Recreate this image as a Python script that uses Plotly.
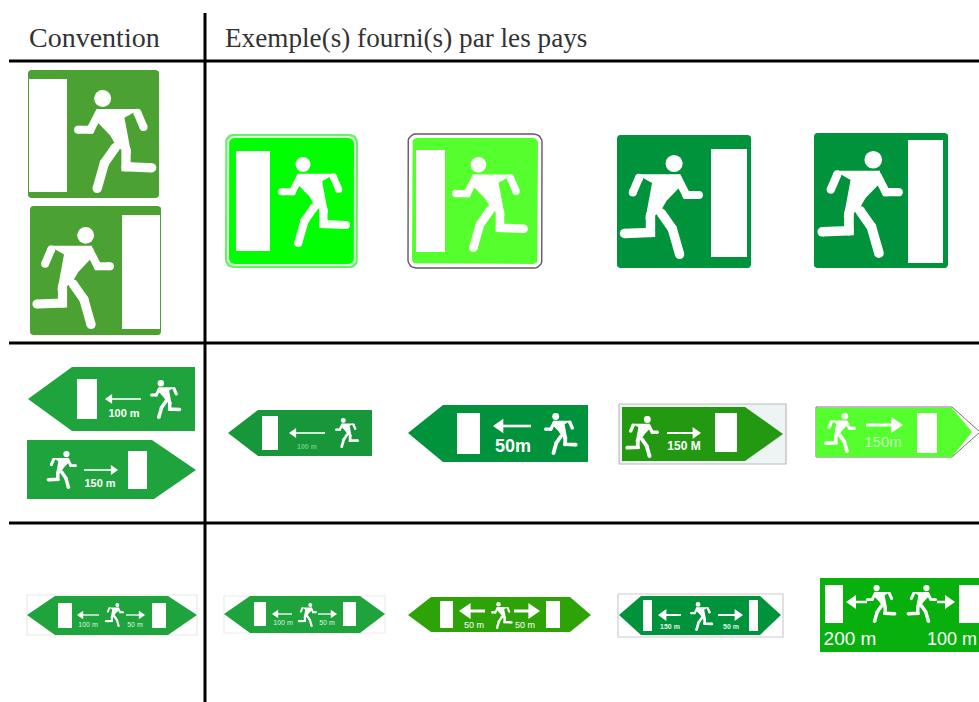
import math
import plotly.graph_objects as go

W, H = 979, 702

# ---- table text and rules
HEADERS = [("Convention", 29, 40, 28), ("Exemple(s) fourni(s) par les pays", 225, 40, 27.2)]
RULES = [((205, 13), (205, 702)), ((9, 61), (979, 61)), ((9, 343), (979, 343)), ((9, 523), (979, 523))]

# ---- colours
C_CONV = "#4ba233"
C_ROW = "#1fa33c"
C_LIME = "#00ff00"
C_LIGHT = "#55ff2d"
C_DARK = "#00933c"
C_GRASS = "#229911"
C_MOSS = "#2ea308"
C_VIVID = "#08b00e"

# ---- running figure, drawn in a 0-1 height unit, facing right
HEAD = (0.278, 0.082, 0.165)
TORSO = [(0.215, 0.185), (0.64, 0.185), (0.49, 0.27), (0.555, 0.62), (0.42, 0.56), (0.35, 0.44), (0.225, 0.31)]
ARM_FRONT = [(0.615, 0.22), (0.675, 0.36)]
ARM_BACK = [(0.24, 0.23), (0.16, 0.385), (0.04, 0.385)]
LEG_REAR = [(0.40, 0.56), (0.295, 0.71), (0.225, 0.955)]
LEG_FRONT = [(0.505, 0.58), (0.505, 0.745), (0.755, 0.755)]
LIMB_W = (0.078, 0.09)

# ---- square signs: x0, x1, y0, y1, colour, door, figure (x0, y0, height, mirrored)
SQUARES = [
    (28, 159, 70, 198, C_CONV, (29, 67, 79, 192), (74, 90, 103, False), None),
    (30, 161, 206, 335, C_CONV, (122, 160, 215, 329), (114, 227, 102, True), None),
    (225, 358, 134, 268, C_LIME, (236, 270, 151, 251), (278, 157, 90, False), "lime"),
    (408, 542, 134, 268, C_LIGHT, (416, 445, 150, 252), (452, 157, 95, False), "frame"),
    (617, 751, 135, 268, C_DARK, (711, 747, 149, 257), (703, 155, 104, True), None),
    (814, 948, 133, 268, C_DARK, (908, 943, 140, 263), (903, 151, 107, True), None),
]

# ---- pointed signs: outline, colour, doors, arrows, labels, figures
CONV_LEFT = [(28, 399), (72, 367), (195, 367), (195, 431), (72, 431)]
CONV_RIGHT = [(27, 440), (152, 440), (196, 470), (154, 499), (27, 499)]
EX1_LEFT = [(228, 433), (258, 410), (372, 410), (372, 456), (258, 456)]
EX2_LEFT = [(408, 433), (443, 405), (588, 405), (588, 462), (443, 462)]
EX3_RIGHT = [(622, 407), (745, 407), (783, 434), (745, 461), (622, 461)]
EX4_RIGHT = [(816, 408), (952, 408), (972, 432), (952, 457), (816, 457)]
CONV_BOTH = [(27, 615), (55, 596), (168, 596), (197, 615), (168, 635), (55, 635)]
EX5_BOTH = [(224, 614), (250, 596), (360, 596), (385, 614), (360, 633), (250, 633)]
EX6_BOTH = [(408, 615), (431, 597), (570, 597), (591, 615), (570, 632), (431, 632)]
EX7_BOTH = [(619, 615), (641, 596), (760, 596), (781, 615), (760, 635), (641, 635)]
EX8_RECT = [(820, 578), (979, 578), (979, 652), (820, 652)]

POINTED = [
    (CONV_LEFT, C_ROW, [(77, 97, 379, 419)], [(141, 105, 399, 1.6)], [("100 m", 124, 414, 11, True, "white")], [(150, 380, 39, False)]),
    (CONV_RIGHT, C_ROW, [(128, 147, 451, 489)], [(84, 118, 470, 1.6)], [("150 m", 100, 484, 11, True, "white")], [(77, 451, 38, True)]),
    (EX1_LEFT, "#17963a", [(262, 278, 416, 450)], [(325, 289, 433, 1.6)], [("100 m", 307, 447, 7, True, "#6ecb85")], [(335, 418, 30, False)]),
    (EX2_LEFT, C_DARK, [(457, 480, 413, 454)], [(531, 493, 426, 2.6)], [("50m", 513, 447, 18, True, "white")], [(544, 413, 42, False)]),
    (EX3_RIGHT, C_GRASS, [(715, 737, 413, 452)], [(667, 701, 433, 2)], [("150 M", 684, 447, 12, True, "white")], [(659, 416, 42, True)]),
    (EX4_RIGHT, C_LIGHT, [(917, 937, 413, 453)], [(866, 903, 425, 3)], [("150m", 883, 443, 15, False, "#c8f8c0")], [(856, 413, 40, True)]),
    (CONV_BOTH, C_ROW, [(58, 72, 603, 628), (152, 166, 603, 628)], [(99, 77, 615, 1.3), (126, 145, 615, 1.3)], [("100 m", 88, 625, 7, False, "#dff3e2"), ("50 m", 135, 625, 7, False, "#dff3e2")], [(124, 603, 24, True)]),
    (EX5_BOTH, C_ROW, [(254, 266, 602, 626), (343, 356, 602, 626)], [(292, 272, 614, 1.3), (318, 337, 614, 1.3)], [("100 m", 283, 623, 7, False, "#dff3e2"), ("50 m", 327, 623, 7, False, "#dff3e2")], [(317, 603, 24, True)]),
    (EX6_BOTH, C_MOSS, [(440, 453, 601, 628), (546, 560, 601, 628)], [(485, 459, 611, 3), (514, 540, 611, 3)], [("50 m", 474, 626, 9, False, "white"), ("50 m", 525, 626, 9, False, "white")], [(491, 602, 27, False)]),
    (EX7_BOTH, C_DARK, [(643, 652, 600, 631), (749, 758, 600, 631)], [(681, 658, 615, 2), (718, 743, 615, 2)], [("150 m", 670, 627, 7, True, "#e3f4e8"), ("50 m", 731, 627, 7, True, "#e3f4e8")], [(690, 602, 29, False)]),
    (EX8_RECT, C_VIVID, [(825, 843, 585, 623), (959, 979, 585, 623)], [(867, 846, 602, 2.5), (937, 955, 602, 2.5)], [("200 m", 850, 640, 19, False, "white"), ("100 m", 952, 640, 18, False, "white")], [(866, 585, 38, False), (937, 585, 38, True)]),
]

# light backing frames behind some pointed signs: x0, x1, y0, y1, fill, edge
BACKINGS = [
    (27, 197, 595, 635, "#ffffff", "#e8e8e8"),
    (224, 385, 596, 633, "#ffffff", "#ececec"),
    (618, 783, 594, 637, "#ffffff", "#cccccc"),
    (619, 786, 404, 464, "#eef3f3", "#bbbbbb"),
]
TIP_EDGE = [(816, 407), (952, 407), (980, 432), (952, 457), (816, 457), (816, 407)]

fig = go.Figure()


def poly(pts, fill, edge=None, lw=0):
    xs = [p[0] for p in pts] + [pts[0][0]]
    ys = [p[1] for p in pts] + [pts[0][1]]
    fig.add_trace(go.Scatter(x=xs, y=ys, mode="lines", fill="toself", fillcolor=fill,
                             line=dict(color=edge or fill, width=lw if edge else 0),
                             hoverinfo="skip", showlegend=False))


def rounded(x0, x1, y0, y1, r):
    pts = []
    for cx, cy, a0 in ((x1 - r, y0 + r, -90), (x1 - r, y1 - r, 0), (x0 + r, y1 - r, 90), (x0 + r, y0 + r, 180)):
        for i in range(7):
            a = math.radians(a0 + 15 * i)
            pts.append((cx + r * math.cos(a), cy + r * math.sin(a)))
    return pts


def door(d):
    poly([(d[0], d[2]), (d[1], d[2]), (d[1], d[3]), (d[0], d[3])], "#ffffff")


def limb(pts, width):
    fig.add_trace(go.Scatter(x=[p[0] for p in pts], y=[p[1] for p in pts], mode="lines+markers",
                             line=dict(color="#ffffff", width=width),
                             marker=dict(color="#ffffff", size=width, line=dict(width=0)),
                             hoverinfo="skip", showlegend=False))


def figure(x0, y0, h, mirrored):
    def t(p):
        return (x0 - p[0] * h if mirrored else x0 + p[0] * h, y0 + p[1] * h)
    fig.add_trace(go.Scatter(x=[t(HEAD)[0]], y=[t(HEAD)[1]], mode="markers",
                             marker=dict(color="#ffffff", size=HEAD[2] * h, line=dict(width=0)),
                             hoverinfo="skip", showlegend=False))
    poly([t(p) for p in TORSO], "#ffffff")
    limb([t(p) for p in ARM_FRONT], LIMB_W[0] * h)
    limb([t(p) for p in ARM_BACK], LIMB_W[0] * h)
    limb([t(p) for p in LEG_REAR], LIMB_W[1] * h)
    limb([t(p) for p in LEG_FRONT], LIMB_W[1] * h)


def arrow(x0, x1, y, w):
    d = 1 if x1 > x0 else -1
    head = 3.2 * w + 2
    fig.add_trace(go.Scatter(x=[x0, x1 - d * head * 0.8], y=[y, y], mode="lines",
                             line=dict(color="#ffffff", width=w), hoverinfo="skip", showlegend=False))
    poly([(x1, y), (x1 - d * head, y - head * 0.7), (x1 - d * head, y + head * 0.7)], "#ffffff")


def label(text, x, y, size, bold, color, family="Liberation Sans", pos="middle center"):
    fig.add_trace(go.Scatter(x=[x], y=[y], mode="text", text=["<b>%s</b>" % text if bold else text],
                             textposition=pos, cliponaxis=False,
                             textfont=dict(size=size, color=color, family=family),
                             hoverinfo="skip", showlegend=False))


for b in BACKINGS:
    poly([(b[0], b[2]), (b[1], b[2]), (b[1], b[3]), (b[0], b[3])], b[4], b[5], 1.2)
poly(TIP_EDGE[:-1], "#ffffff", "#777777", 1)

for x0, x1, y0, y1, col, d, fg, style in SQUARES:
    if style == "lime":
        poly(rounded(x0, x1, y0, y1, 8), "#66f266")
        poly(rounded(x0 + 2, x1 - 2, y0 + 2, y1 - 2, 7), "#d8fcd8")
        poly(rounded(x0 + 4, x1 - 4, y0 + 4, y1 - 4, 6), col)
    elif style == "frame":
        poly(rounded(x0, x1, y0, y1, 8), "#ffffff", "#665566", 1.4)
        poly(rounded(x0 + 4, x1 - 4, y0 + 4, y1 - 4, 5), col)
    else:
        poly(rounded(x0, x1, y0, y1, 3), col)
    door(d)
    figure(*fg)

for outline, col, doors, arrows, labels, figures in POINTED:
    poly(outline, col)
    for d in doors:
        door(d)
    for a in arrows:
        arrow(*a)
    for l in labels:
        label(*l)
    for f in figures:
        figure(*f)

for (x0, y0), (x1, y1) in RULES:
    fig.add_trace(go.Scatter(x=[x0, x1], y=[y0, y1], mode="lines", line=dict(color="#000000", width=3),
                             hoverinfo="skip", showlegend=False))

for t, x, y, s in HEADERS:
    label(t, x, y, s, False, "#333333", "Liberation Serif", "middle right")

fig.update_layout(width=W, height=H, margin=dict(l=0, r=0, t=0, b=0), showlegend=False,
                  paper_bgcolor="#ffffff", plot_bgcolor="#ffffff",
                  xaxis=dict(range=[0, W], visible=False, fixedrange=True),
                  yaxis=dict(range=[H, 0], visible=False, fixedrange=True))
fig.write_html("out.html", config=dict(displayModeBar=False),
               post_script="document.body.style.margin='0';")
